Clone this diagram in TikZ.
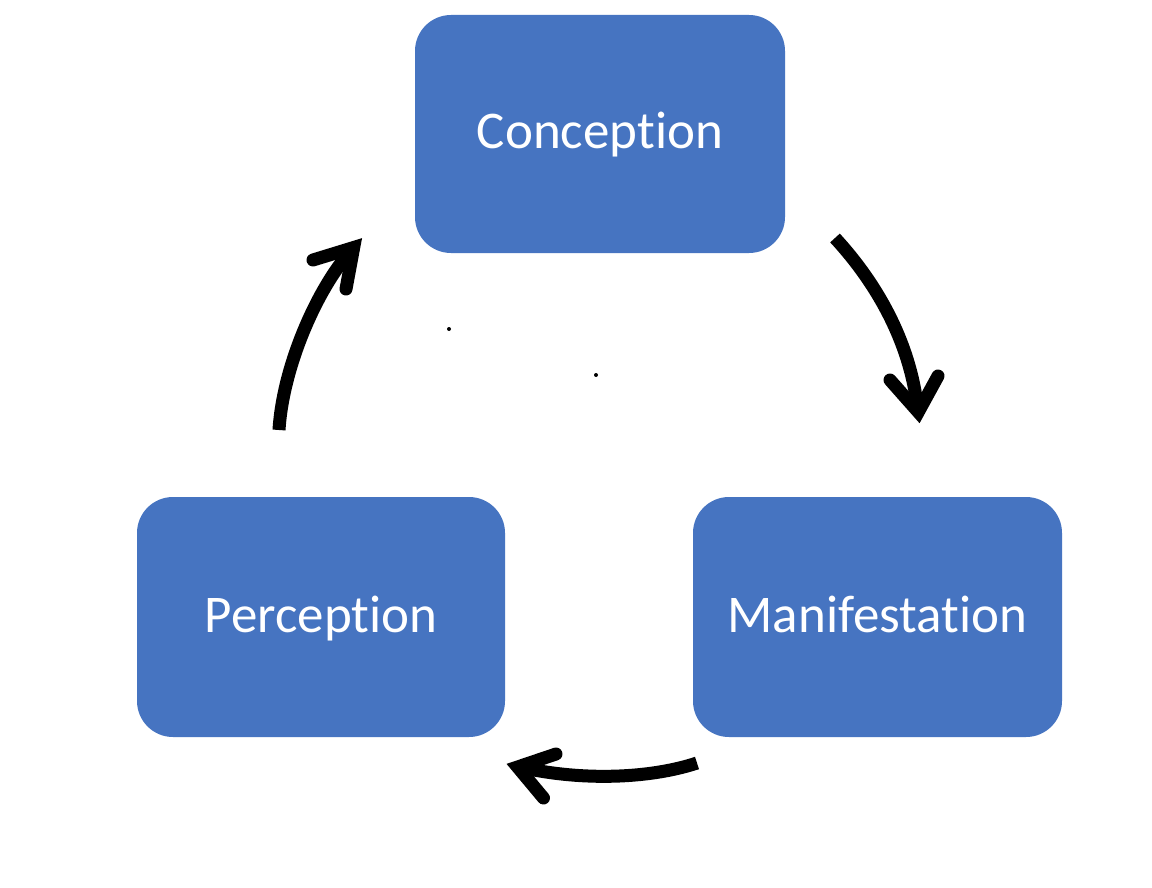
\documentclass[tikz,border=0pt]{standalone}
\usepackage{fontspec}
\setmainfont[RawFeature={-liga;-dlig;-clig}]{Carlito}
\definecolor{boxblue}{HTML}{4674C1}
\begin{document}
\begin{tikzpicture}[x=1pt,y=-1pt,
  stagebox/.style={fill=boxblue,draw=none,rounded corners=36pt,text=white,
    font=\fontsize{53}{60}\selectfont,inner sep=0pt,text height=34pt,text depth=4pt},
  flow/.style={line width=13pt,black},
  chevron/.style={line width=13pt,black,line cap=round,line join=miter,miter limit=10}]
\useasboundingbox[fill=white] (0,0) rectangle (1152,888);
\node[stagebox,minimum width=370pt,minimum height=238pt] (con) at (600,134) {Conception};
\node[stagebox,minimum width=368pt,minimum height=240pt] (per) at (321,617) {Perception};
\node[stagebox,minimum width=369pt,minimum height=240pt] (man) at (877.5,617) {Manifestation};
% dots
\fill (449,329) circle (2pt);
\fill (596,375) circle (2pt);
% left arrow: Perception -> Conception
\coordinate (s1) at (279,430);
\coordinate (e1) at (350,252);
\coordinate (t1) at (353.7,247.5);
\coordinate (a1) at (313,260);
\coordinate (b1) at (346,289);
\draw[flow] (s1) .. controls (283,365) and (318,288) .. (e1);
\draw[chevron] (a1) -- (t1) -- (b1);
% right arrow: Conception -> Manifestation
\coordinate (s2) at (835,238);
\coordinate (e2) at (917,404);
\coordinate (t2) at (918.3,412);
\coordinate (a2) at (890,380);
\coordinate (b2) at (938,376);
\draw[flow] (s2) .. controls (872,278) and (908,335) .. (e2);
\draw[chevron] (a2) -- (t2) -- (b2);
% bottom arrow: Manifestation -> Perception
\coordinate (s3) at (697,763);
\coordinate (e3) at (524,768);
\coordinate (t3) at (517.6,767);
\coordinate (a3) at (556,754);
\coordinate (b3) at (543.5,798);
\draw[flow] (s3) .. controls (655,777) and (590,782) .. (e3);
\draw[chevron] (a3) -- (t3) -- (b3);
\end{tikzpicture}
\end{document}
